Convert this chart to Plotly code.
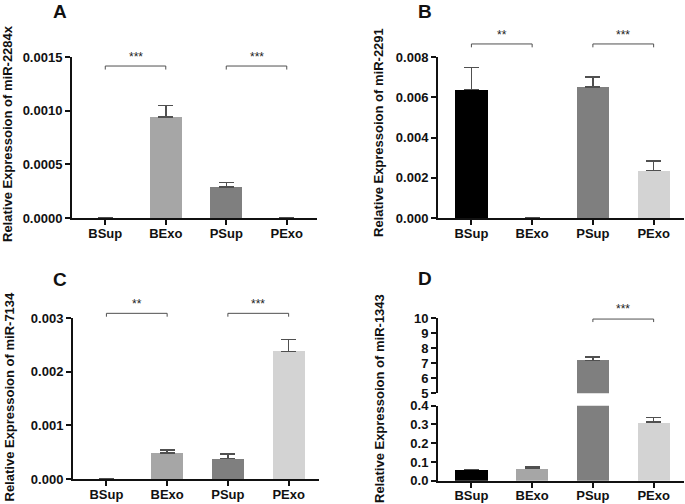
import plotly.graph_objects as go

W, H = 685, 504

categories = ["BSup", "BExo", "PSup", "PExo"]
bar_colors = ["#000000", "#a6a6a6", "#7f7f7f", "#d3d3d3"]

# Panel A: miR-2284x
a_values = [0.0, 0.00094, 0.00029, 0.0]
a_errors = [None, 0.00011, 0.00004, None]
# Panel B: miR-2291
b_values = [0.00638, 0.0, 0.00650, 0.00236]
b_errors = [0.00110, None, 0.00050, 0.00047]
# Panel C: miR-7134
c_values = [0.0, 0.00048, 0.00038, 0.00238]
c_errors = [None, 0.00006, 0.00009, 0.00022]
# Panel D: miR-1343 (broken axis)
d_values = [0.060, 0.064, 7.18, 0.312]
d_errors = [None, 0.008, 0.25, 0.024]

titles = ["Relative Expressoion of miR-2284x", "Relative Expressoion of miR-2291",
          "Relative Expressoion of miR-7134", "Relative Expressoion of miR-1343"]
letters = ["A", "B", "C", "D"]

FONT = "Liberation Sans, Arial, sans-serif"


def px_x(a, b):
    return [a / W, b / W]


def px_y(top, bottom):
    return [1 - bottom / H, 1 - top / H]


fig = go.Figure()


def add_bars(vals, errs, xa, ya):
    fig.add_trace(go.Bar(
        x=categories, y=vals, width=0.53,
        marker=dict(color=bar_colors, line=dict(width=0)),
        error_y=dict(type="data", symmetric=False, array=errs,
                     arrayminus=[0] * len(errs), color="#505050",
                     thickness=1.5, width=7.5),
        xaxis=xa, yaxis=ya, showlegend=False, hoverinfo="x+y"))


add_bars(a_values, a_errors, "x", "y")
add_bars(b_values, b_errors, "x2", "y2")
add_bars(c_values, c_errors, "x3", "y3")
add_bars(d_values, d_errors, "x4", "y4")
add_bars(d_values, d_errors, "x4", "y5")

axis_common = dict(showline=True, linecolor="#111111", linewidth=2,
                   ticks="outside", ticklen=5, tickwidth=2, tickcolor="#111111",
                   showgrid=False, zeroline=False, automargin=False,
                   tickfont=dict(family=FONT, size=13, color="#111111", weight="bold"))
xaxis_common = dict(axis_common, ticklabelstandoff=-3)

xrange = [-0.55, 3.5]
layout = dict(
    template="none",
    width=W, height=H, margin=dict(l=0, r=0, t=0, b=0, autoexpand=False),
    paper_bgcolor="white", plot_bgcolor="white", bargap=0,
    font=dict(family=FONT, color="#111111"),
    xaxis=dict(domain=px_x(72, 317), anchor="y", range=xrange, type="category",
               categoryarray=categories, **xaxis_common),
    yaxis=dict(domain=px_y(57, 218), anchor="x", range=[0, 0.0015], dtick=0.0005,
               tickformat=".4f", **axis_common),
    xaxis2=dict(domain=px_x(438, 684), anchor="y2", range=xrange, type="category",
                categoryarray=categories, **xaxis_common),
    yaxis2=dict(domain=px_y(57, 218), anchor="x2", range=[0, 0.008], dtick=0.002,
                tickformat=".3f", **axis_common),
    xaxis3=dict(domain=px_x(73, 319), anchor="y3", range=xrange, type="category",
                categoryarray=categories, **xaxis_common),
    yaxis3=dict(domain=px_y(318, 479), anchor="x3", range=[0, 0.003], dtick=0.001,
                tickformat=".3f", **axis_common),
    xaxis4=dict(domain=px_x(438, 684), anchor="y4", range=xrange, type="category",
                categoryarray=categories, **xaxis_common),
    yaxis4=dict(domain=px_y(405.7, 480.7), anchor="x4", range=[0, 0.4], dtick=0.1,
                tickformat=".1f", **axis_common),
    yaxis5=dict(domain=px_y(318.3, 393.3), anchor="x4", range=[5, 10], dtick=1,
                tickformat="d", **axis_common),
)
fig.update_layout(**layout)

# significance brackets: (xref, yref, x0, x1, y_line, y_tick_end, y_text, label)
brackets = [
    ("x", "y domain", 0, 1, 0.944, 0.922, 1.0, "***"),
    ("x", "y domain", 2, 3, 0.944, 0.922, 1.0, "***"),
    ("x2", "y2 domain", 0, 1, 1.081, 1.060, 1.137, "**"),
    ("x2", "y2 domain", 2, 3, 1.081, 1.060, 1.137, "***"),
    ("x3", "y3 domain", 0, 1, 1.029, 1.008, 1.090, "**"),
    ("x3", "y3 domain", 2, 3, 1.029, 1.008, 1.090, "***"),
    ("x4", "y5 domain", 2, 3, 0.99, 0.95, 1.13, "***"),
]
for xr, yr, x0, x1, yl, yt, ytxt, lab in brackets:
    for (a, b, c, d) in [(x0, yl, x1, yl), (x0, yt, x0, yl), (x1, yt, x1, yl)]:
        fig.add_shape(type="line", xref=xr, yref=yr, x0=a, y0=b, x1=c, y1=d,
                      line=dict(color="#505050", width=1))
    fig.add_annotation(xref=xr, yref=yr, x=(x0 + x1) / 2, y=ytxt, text=lab,
                       showarrow=False, font=dict(family=FONT, size=12, color="#222222"),
                       yanchor="middle")

# y axis titles (paper-pixel centres)
title_pos = [(8, 134), (379, 132), (8.5, 397), (379, 398)]
for (xp, yp), t in zip(title_pos, titles):
    fig.add_annotation(xref="paper", yref="paper", x=xp / W, y=1 - yp / H, text=t,
                       textangle=-90, showarrow=False, xanchor="center", yanchor="middle",
                       font=dict(family=FONT, size=13, color="#111111", weight="bold"))

# panel letters
letter_pos = [(60, 11), (425, 11), (60, 279), (425, 278)]
for (xp, yp), L in zip(letter_pos, letters):
    fig.add_annotation(xref="paper", yref="paper", x=xp / W, y=1 - yp / H, text=L,
                       showarrow=False, xanchor="center", yanchor="middle",
                       font=dict(family=FONT, size=19, color="#111111", weight="bold"))

fig.write_html("out.html", config={"displayModeBar": False},
               post_script="document.body.style.margin='0';document.body.style.overflow='hidden';")
